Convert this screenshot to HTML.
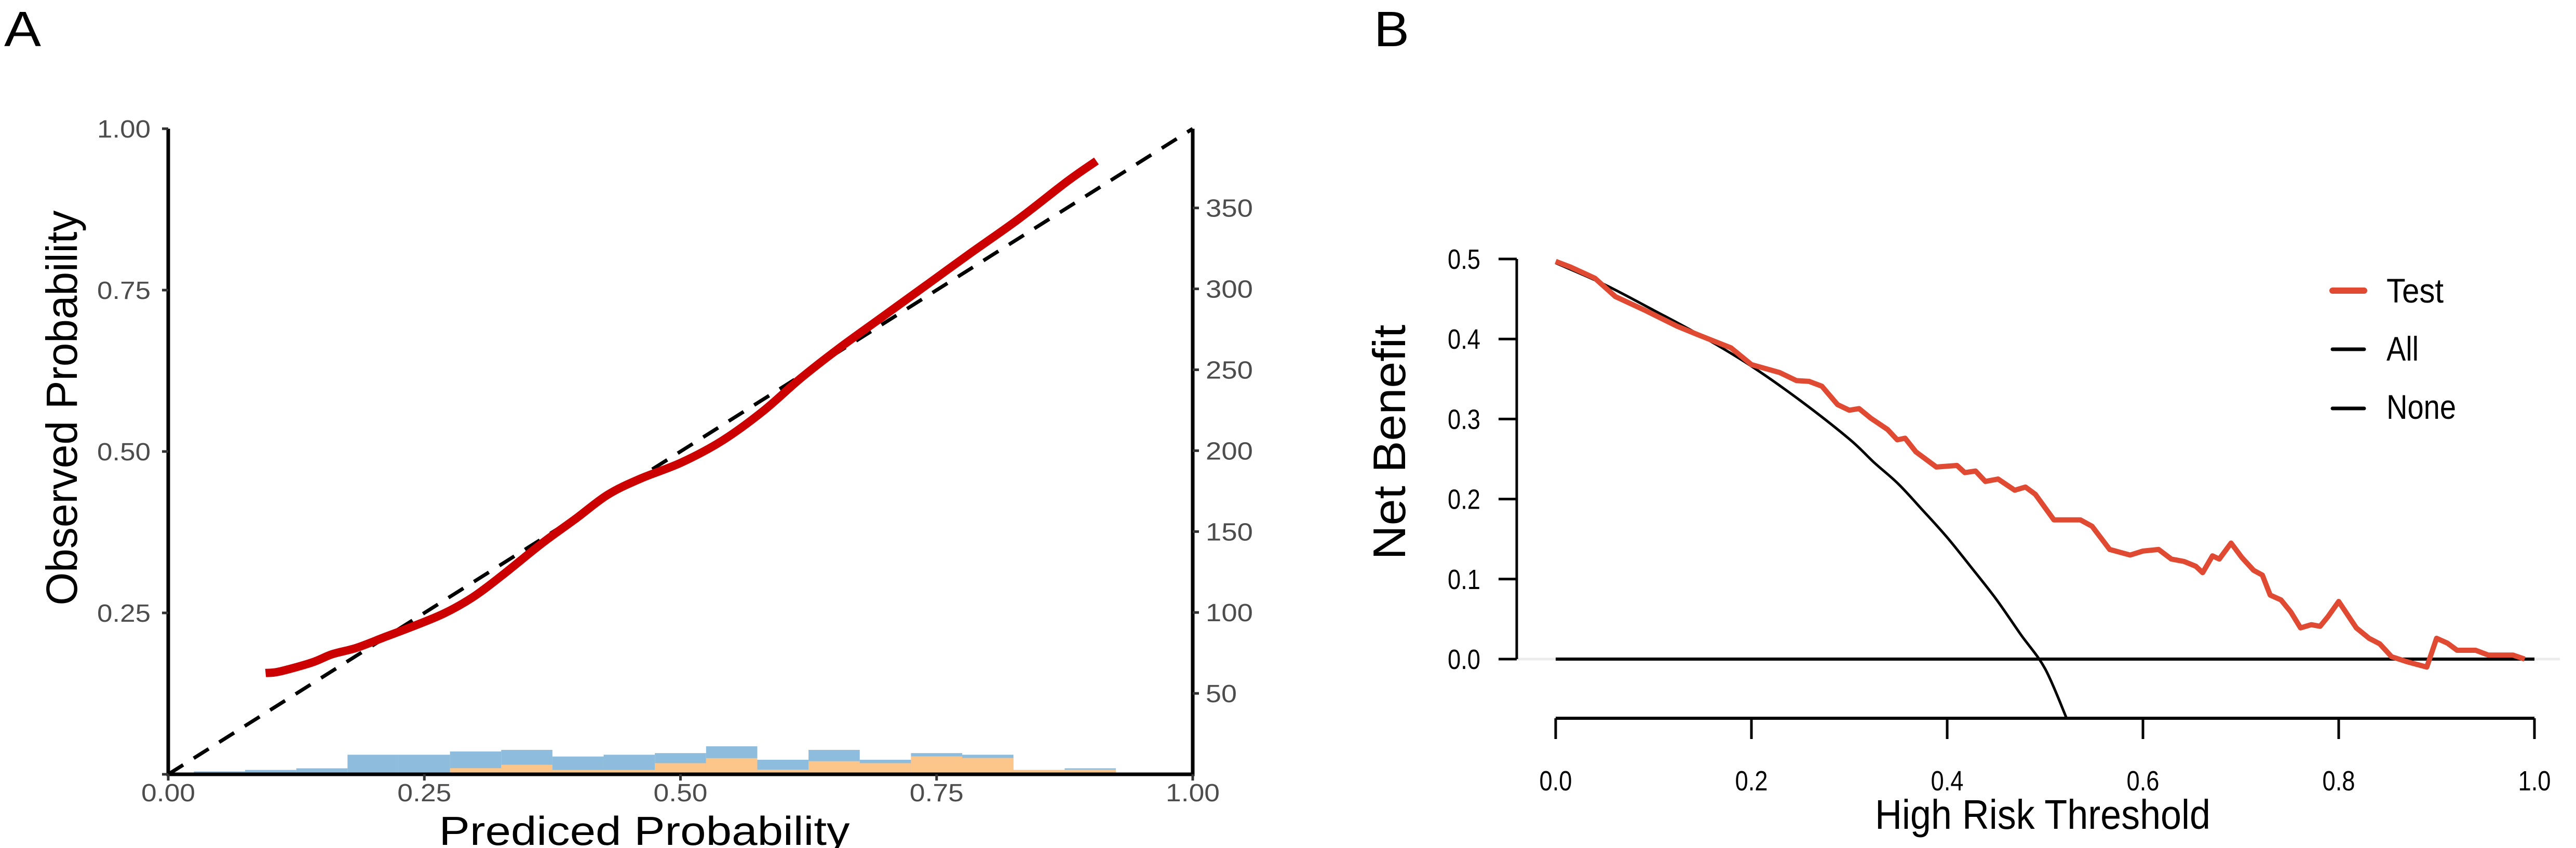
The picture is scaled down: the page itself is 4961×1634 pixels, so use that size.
<!DOCTYPE html>
<html><head><meta charset="utf-8"><style>
html,body{margin:0;padding:0;background:#fff;}
svg{display:block;}
text{font-family:"Liberation Sans",sans-serif;}
</style></head><body>
<svg id="fig" width="4961" height="1634" viewBox="0 0 4961 1634" xmlns="http://www.w3.org/2000/svg">
<rect width="4961" height="1634" fill="#fff"/>
<g id="pa"></g>
<g id="pb"></g>
</svg>
<script>
// Panel A data
const calX = [0.095,0.108,0.14,0.16,0.184,0.212,0.237,0.269,0.297,0.325,0.365,0.397,0.429,0.461,0.501,0.541,0.581,0.617,0.654,0.694,0.742,0.782,0.830,0.878,0.906];
const calY = [0.157,0.159,0.173,0.186,0.196,0.213,0.228,0.249,0.274,0.307,0.358,0.395,0.433,0.458,0.483,0.517,0.563,0.613,0.659,0.705,0.760,0.806,0.860,0.919,0.950];
const binCenters = [0.05,0.10,0.15,0.20,0.25,0.30,0.35,0.40,0.45,0.50,0.55,0.60,0.65,0.70,0.75,0.80,0.85,0.90];
const countsBlue = [1.8,2.7,3.7,12.1,12.1,14.1,15.1,11,12.1,13.1,17.3,9,15.1,9,13.1,12.1,2.7,3.7];
const countsOrange = [1,0.3,0.3,0.8,0.8,3.8,5.9,2.7,2.7,6.9,10,2.9,8.1,6.9,11.1,10.1,2.7,2.9];
const aTicks = [0,0.25,0.5,0.75,1];
const aTickLabels = ["0.00","0.25","0.50","0.75","1.00"];
const countTicks = [50,100,150,200,250,300,350];
// Panel B data
const thrX = [0,0.015,0.04,0.061,0.091,0.124,0.146,0.179,0.2,0.229,0.246,0.259,0.272,0.288,0.3,0.31,0.322,0.339,0.349,0.357,0.368,0.389,0.41,0.418,0.429,0.439,0.452,0.469,0.48,0.49,0.509,0.536,0.548,0.566,0.587,0.6,0.616,0.629,0.642,0.654,0.661,0.671,0.678,0.69,0.701,0.713,0.722,0.73,0.741,0.751,0.761,0.772,0.781,0.789,0.8,0.818,0.831,0.842,0.854,0.869,0.89,0.9,0.911,0.921,0.94,0.953,0.978,0.99];
const testNB = [0.497,0.49,0.476,0.453,0.436,0.416,0.405,0.389,0.368,0.358,0.348,0.347,0.341,0.318,0.311,0.313,0.301,0.287,0.274,0.276,0.259,0.24,0.242,0.233,0.235,0.222,0.225,0.211,0.215,0.206,0.174,0.174,0.166,0.137,0.13,0.135,0.137,0.125,0.122,0.116,0.108,0.129,0.125,0.145,0.127,0.111,0.105,0.08,0.074,0.059,0.039,0.043,0.041,0.053,0.072,0.039,0.026,0.019,0.003,-0.003,-0.01,0.026,0.02,0.011,0.011,0.005,0.005,0];
const allX = [0,0.05,0.1,0.15,0.2,0.25,0.3,0.325,0.35,0.375,0.4,0.425,0.45,0.475,0.5,0.522];
const allNB = [0.495,0.468,0.436,0.403,0.366,0.323,0.275,0.246,0.219,0.186,0.152,0.114,0.075,0.031,-0.012,-0.074];
const noneX = [0,1];
const noneNB = [0,0];
const bXTicks = [0,0.2,0.4,0.6,0.8,1.0];
const bXTickLabels = ["0.0","0.2","0.4","0.6","0.8","1.0"];
const bYTicks = [0,0.1,0.2,0.3,0.4,0.5];
const bYTickLabels = ["0.0","0.1","0.2","0.3","0.4","0.5"];

const NS="http://www.w3.org/2000/svg";
function mk(parent,tag,attrs){const e=document.createElementNS(NS,tag);for(const k in attrs)e.setAttribute(k,attrs[k]);parent.appendChild(e);return e;}
function txt(parent,s,x,y,size,len,anchor,fill,extra){
  const t=mk(parent,'text',{x:x,y:y,'font-size':size,'text-anchor':anchor||'start',fill:fill||'#000',textLength:len,lengthAdjust:'spacingAndGlyphs'});
  if(extra)for(const k in extra)t.setAttribute(k,extra[k]);
  t.textContent=s;return t;}
function smooth(pts){
  let d=`M${pts[0][0]},${pts[0][1]}`;
  for(let i=0;i<pts.length-1;i++){
    const p0=pts[Math.max(0,i-1)],p1=pts[i],p2=pts[i+1],p3=pts[Math.min(pts.length-1,i+2)];
    const c1=[p1[0]+(p2[0]-p0[0])/6,p1[1]+(p2[1]-p0[1])/6];
    const c2=[p2[0]-(p3[0]-p1[0])/6,p2[1]-(p3[1]-p1[1])/6];
    d+=` C${c1[0]},${c1[1]} ${c2[0]},${c2[1]} ${p2[0]},${p2[1]}`;
  }
  return d;}

// ---- Panel A ----
const pa=document.getElementById('pa');
const ax=v=>324+v*1973, ay=v=>1492-v*1244, cy=c=>1492-c*3.118;
const lblA=txt(pa,'A',8,89,96,71);


binCenters.forEach((c,i)=>{
  const r=mk(pa,'rect',{x:ax(c-0.025),y:cy(countsBlue[i]),width:ax(0.05)-ax(0),height:1492-cy(countsBlue[i]),fill:'#8dbcdc'});
  
  
});
binCenters.forEach((c,i)=>{
  const r=mk(pa,'rect',{x:ax(c-0.025),y:cy(countsOrange[i]),width:ax(0.05)-ax(0),height:1492-cy(countsOrange[i]),fill:'#fcc58a'});
  
  
});
const diag=mk(pa,'line',{x1:ax(0),y1:ay(0),x2:ax(1),y2:ay(1),stroke:'#000','stroke-width':7,'stroke-dasharray':'34 24'});


const cal=mk(pa,'path',{d:smooth(calX.map((x,i)=>[ax(x),ay(calY[i])])),fill:'none',stroke:'#cc0000','stroke-width':16,'stroke-linejoin':'round'});


const axA=mk(pa,'path',{d:`M${ax(0)},${ay(1)} V${ay(0)} H${ax(1)} V${ay(1)}`,fill:'none',stroke:'#000','stroke-width':7});


aTicks.forEach((v,i)=>{
  mk(pa,'line',{x1:ax(v),y1:ay(0),x2:ax(v),y2:ay(0)+12,stroke:'#333','stroke-width':5});
  const t=txt(pa,aTickLabels[i],ax(v),1544,48,104,'middle','#4d4d4d');
  
  
  mk(pa,'line',{x1:ax(0)-12,y1:ay(v),x2:ax(0),y2:ay(v),stroke:'#333','stroke-width':5});
  if(v>0){const t2=txt(pa,aTickLabels[i],290,ay(v)+17,48,103,'end','#4d4d4d');
  
  }
});
countTicks.forEach(c=>{
  mk(pa,'line',{x1:ax(1),y1:cy(c),x2:ax(1)+12,y2:cy(c),stroke:'#333','stroke-width':5});
  const t=txt(pa,String(c),2322,cy(c)+17,48,c>=100?91:60,'start','#4d4d4d');
  
  
});
const ytA=txt(pa,'Observed Probability',0,0,84,761,'middle','#000',{transform:'translate(148,786) rotate(-90)'});


const xtA=txt(pa,'Prediced Probability',1241,1628,78,791,'middle','#000');



// ---- Panel B ----
const pb=document.getElementById('pb');
const bx=v=>2996+v*1885, by=v=>1270-v*1542;
const lblB=txt(pb,'B',2646,89,96,68);


mk(pb,'line',{x1:2921,y1:by(0),x2:4930,y2:by(0),stroke:'#ececec','stroke-width':5});
const none=mk(pb,'polyline',{points:noneX.map((x,i)=>bx(x)+','+by(noneNB[i])).join(' '),fill:'none',stroke:'#000','stroke-width':6});


const all=mk(pb,'path',{d:smooth(allX.map((x,i)=>[bx(x),by(allNB[i])])),fill:'none',stroke:'#000','stroke-width':5});


const test=mk(pb,'polyline',{points:thrX.map((x,i)=>bx(x)+','+by(testNB[i])).join(' '),fill:'none',stroke:'#e04a33','stroke-width':10,'stroke-linejoin':'round'});


const yAxB=mk(pb,'line',{x1:2921,y1:by(0.5),x2:2921,y2:by(0),stroke:'#000','stroke-width':5});


bYTicks.forEach((v,i)=>{
  mk(pb,'line',{x1:2886,y1:by(v),x2:2921,y2:by(v),stroke:'#000','stroke-width':5});
  const t=txt(pb,bYTickLabels[i],2851,by(v)+19,54,63,'end');
  
  
});
const xAxB=mk(pb,'line',{x1:bx(0),y1:1384,x2:bx(1),y2:1384,stroke:'#000','stroke-width':6});


bXTicks.forEach((v,i)=>{
  mk(pb,'line',{x1:bx(v),y1:1384,x2:bx(v),y2:1424,stroke:'#000','stroke-width':5});
  const t=txt(pb,bXTickLabels[i],bx(v),1523,54,63,'middle');
  
  
});
const ytB=txt(pb,'Net Benefit',0,0,88,453,'middle','#000',{transform:'translate(2706,852) rotate(-90)'});


const xtB=txt(pb,'High Risk Threshold',3934,1597,80,646,'middle');


const leg=mk(pb,'g',{});


const legItems=[['Test','#e04a33',12,560,583,110],['All','#000',7,673,695,62],['None','#000',7,787,807,134]];
legItems.forEach(it=>{
  const g=mk(leg,'g',{});
  
  
  mk(g,'line',{x1:4492,y1:it[3],x2:4553,y2:it[3],stroke:it[1],'stroke-width':it[2],'stroke-linecap':'round'});
  txt(g,it[0],4596,it[4],66,it[5],'start');
});
</script>
</body></html>
